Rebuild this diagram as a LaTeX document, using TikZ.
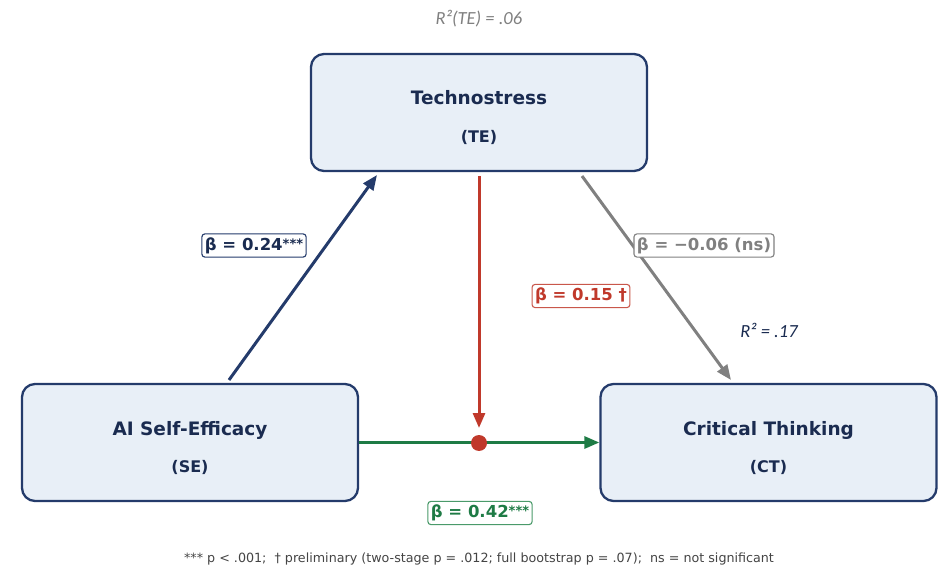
\documentclass[tikz,border=0pt]{standalone}
\usepackage{fontspec}
\setmainfont{DejaVu Sans}
\newfontfamily\carl{Carlito}
\usetikzlibrary{arrows.meta,calc}
\definecolor{navy}{HTML}{243B6B}
\definecolor{navytext}{HTML}{1A2B50}
\definecolor{boxfill}{HTML}{E8EFF7}
\definecolor{redc}{HTML}{C0392B}
\definecolor{greenc}{HTML}{1E7B45}
\definecolor{greenl}{HTML}{4A9A6A}
\definecolor{grayc}{HTML}{808080}
\definecolor{foot}{HTML}{444444}
\tikzset{
  varbox/.style={draw=navy, fill=boxfill, line width=2.3pt, rounded corners=13pt,
    minimum width=336pt, minimum height=117pt, inner sep=0pt},
  title/.style={font=\bfseries\fontsize{18.5}{21}\selectfont, text=navytext, inner sep=0pt},
  subt/.style={font=\bfseries\fontsize{16}{19}\selectfont, text=navytext, inner sep=0pt},
  lab/.style={draw, fill=white, rounded corners=3pt, line width=1.1pt, inner xsep=3pt, inner ysep=3.5pt,
    font=\bfseries\fontsize{16.5}{19}\selectfont},
  rsq/.style={font=\carl\itshape\fontsize{18.5}{21}\selectfont, inner sep=0pt},
  arr/.style={line width=3pt, -{Triangle[length=15pt,width=12pt]}},
}
\newcommand{\mystars}{\raisebox{2pt}{\fontsize{13}{14}\selectfont ***}}
\begin{document}
\begin{tikzpicture}[x=1pt,y=-1pt]
\useasboundingbox (0,0) rectangle (951,577);
% boxes
\node[varbox] (te) at (479,112.5) {};
\node[varbox] (se) at (190,442.5) {};
\node[varbox] (ct) at (768.5,442.5) {};
\node[title] (tet) at (479,98) {Technostress};
\node[subt] (tes) at (479,137) {(TE)};
\node[title] (set) at (190,430) {AI Self-Efficacy};
\node[subt] (ses) at (190,467) {(SE)};
\node[title] (ctt) at (768.5,430) {Critical Thinking};
\node[subt] (cts) at (768.5,467) {(CT)};
% coordinates
\coordinate (seA) at (229,380);
\coordinate (teA) at (377,175);
\coordinate (teB) at (582,176);
\coordinate (ctB) at (731,380);
\coordinate (teC) at (479,176);
\coordinate (dotT) at (479,428);
% connectors
\draw[arr, draw=navy, fill=navy] (seA) -- (teA);
\draw[arr, draw=grayc, fill=grayc] (teB) -- (ctB);
\draw[arr, draw=redc, fill=redc] (teC) -- (dotT);
\draw[arr, draw=greenc, fill=greenc] (se.east) -- (ct.west);
\node[circle, fill=redc, minimum size=16pt, inner sep=0pt] (dot) at (479,443) {};
% labels
\node[lab, draw=navy, text=navytext] (l1) at (254,245.5) {β = 0.24\mystars};
\node[lab, draw=grayc, text=grayc] (l2) at (704,245.5) {β = −0.06 (ns)};
\node[lab, draw=redc!85, text=redc] (l3) at (581,296) {β = 0.15 †};
\node[lab, draw=greenl, text=greenc] (l4) at (480,513) {β = 0.42\mystars};
\node[rsq, text=navytext] (r2ct) at (769,330) {R² = .17};
\node[rsq, text=grayc] (r2te) at (479,19) {R²(TE) = .06};
\node[font=\fontsize{12.7}{14}\selectfont, text=foot, inner sep=0pt] (fn) at (479,559)
  {*** p < .001;\ \ † preliminary (two-stage p = .012; full bootstrap p = .07);\ \ ns = not significant};
\end{tikzpicture}
\end{document}
